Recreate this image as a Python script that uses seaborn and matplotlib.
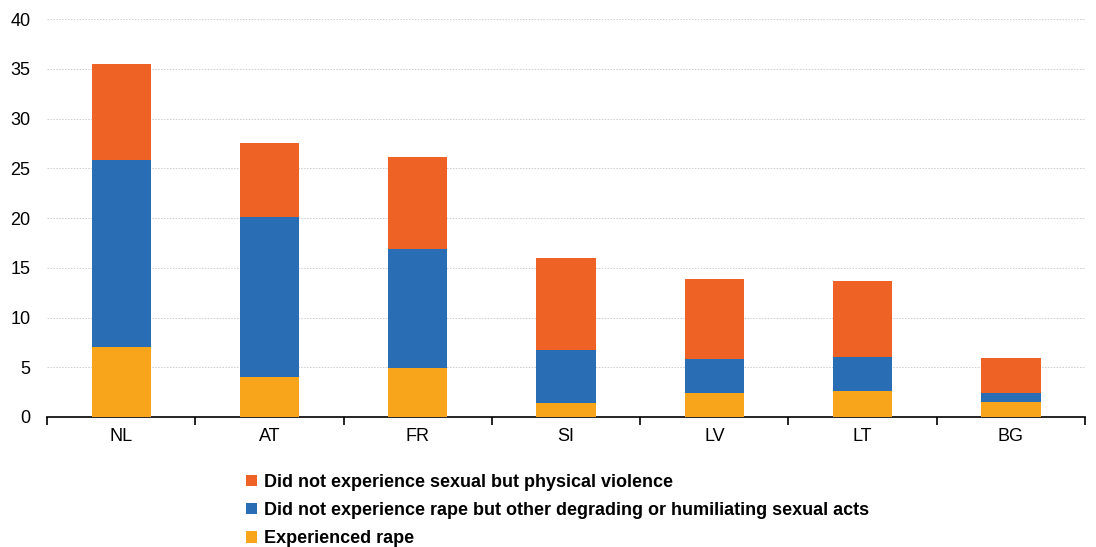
import numpy as np
import pandas as pd
import seaborn as sns
import matplotlib.pyplot as plt
from matplotlib.patches import Patch

# data
countries = ["NL", "AT", "FR", "SI", "LV", "LT", "BG"]
rape = [7.0, 4.0, 4.9, 1.4, 2.4, 2.6, 1.5]
degrading = [18.8, 16.1, 12.0, 5.3, 3.4, 3.4, 0.9]
physical = [9.7, 7.4, 9.2, 9.3, 8.1, 7.7, 3.5]

labels = ["Did not experience sexual but physical violence",
          "Did not experience rape but other degrading or humiliating sexual acts",
          "Experienced rape"]
colors = ["#EE6325", "#296EB4", "#F9A51B"]

df = pd.DataFrame({"country": countries, "rape": rape,
                   "degrading": degrading, "physical": physical})
df["lvl1"] = df["rape"]
df["lvl2"] = df["rape"] + df["degrading"]
df["lvl3"] = df["lvl2"] + df["physical"]

sns.set_style("white")
plt.rcParams["font.family"] = ["Liberation Sans", "DejaVu Sans"]
plt.rcParams["text.color"] = "black"

fig = plt.figure(figsize=(10.96, 5.47), dpi=100)
ax = fig.add_axes([0.043, 0.2377, 0.947, 0.7273])

# stacked bars: draw cumulative totals, top layer first
for col, c in zip(["lvl3", "lvl2", "lvl1"], colors):
    sns.barplot(data=df, x="country", y=col, color=c, width=0.4,
                saturation=1, ax=ax, linewidth=0, zorder=3)

ax.set_xlim(-0.5, 6.5)
ax.set_ylim(0, 40)
ax.set_yticks(np.arange(0, 41, 5))
ax.set_xlabel("")
ax.set_ylabel("")
ax.yaxis.grid(True, linestyle=(0, (1.5, 1.5)), color="#cccccc", linewidth=0.7, zorder=0)
ax.set_axisbelow(True)

for s in ["top", "right", "left"]:
    ax.spines[s].set_visible(False)
ax.spines["bottom"].set_color("black")
ax.spines["bottom"].set_linewidth(1.2)

ax.set_xticks(np.arange(-0.5, 7, 1), minor=True)
ax.tick_params(axis="x", which="minor", bottom=True, length=6, width=1.2,
               color="black", direction="out")
ax.tick_params(axis="x", which="major", length=0, labelsize=13, pad=8, labelcolor="black")
ax.tick_params(axis="y", length=0, labelsize=13, pad=12, labelcolor="black")

handles = [Patch(facecolor=c, edgecolor="none") for c in colors]
leg = fig.legend(handles, labels, loc="upper left", bbox_to_anchor=(0.21, 0.1635),
                 frameon=False, handlelength=0.6, handleheight=0.6, handletextpad=0.35,
                 labelspacing=0.62, prop={"weight": "bold", "size": 13})

fig.savefig("out.png", dpi=100)
